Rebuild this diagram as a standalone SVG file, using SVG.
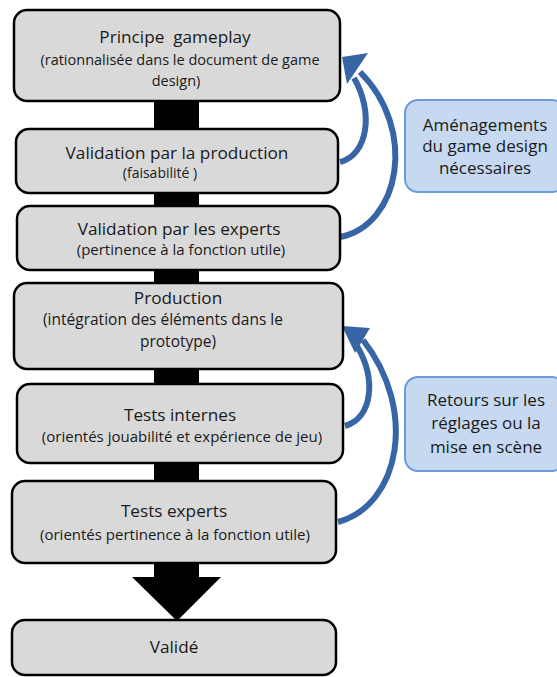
<svg xmlns="http://www.w3.org/2000/svg" width="557" height="677" viewBox="0 0 557 677">
<style>
.box{fill:#d9d9d9;stroke:#000;stroke-width:2.5}
.bbox{fill:#c6d9f1;stroke:#6b9bd8;stroke-width:2}
.t{font-family:"Open Sans","Noto Sans",sans-serif;font-size:17.2px;fill:#1a1a1a;text-anchor:middle}
.s{font-family:"Open Sans","Noto Sans",sans-serif;font-size:15px;fill:#1a1a1a;text-anchor:middle}
.b{font-family:"Open Sans","Noto Sans",sans-serif;font-size:17px;fill:#1a1a1a;text-anchor:middle}
.bar{fill:#000}
.arc{fill:none;stroke:#3765a6;stroke-width:6}
.head{fill:#3765a6}
</style>
<rect width="557" height="677" fill="#fff"/>
<g id="connectors">
<rect class="bar" x="154" y="99" width="45" height="31"/>
<rect class="bar" x="154" y="191" width="45" height="17"/>
<rect class="bar" x="154" y="268" width="45" height="16"/>
<rect class="bar" x="154" y="368" width="45" height="18"/>
<rect class="bar" x="154" y="461" width="45" height="22"/>
<rect class="bar" x="154" y="561" width="45" height="17"/>
<polygon class="bar" points="132,577 221,577 177,621"/>
<path class="arc" d="M340 162 C368 155 374 112 354 78"/>
<path class="arc" d="M340 237 C400 225 418 130 360 72"/>
<polygon class="head" points="342,57 368,53 347,84"/>
<path class="arc" d="M345 426 C372 418 377 380 357 346"/>
<path class="arc" d="M338 522 C400 505 418 410 363 340"/>
<polygon class="head" points="342,326 370,328 355,353"/>
</g>
<g id="n1"><rect class="box" x="14" y="10" width="326" height="91" rx="13"/>
<text class="t" x="175" y="43" xml:space="preserve">Principe  gameplay</text>
<text class="s" x="180" y="65" style="font-size:14.5px">(rationnalisée dans le document de game</text>
<text class="s" x="176" y="86" style="font-size:14.5px">design)</text></g>
<g id="n2"><rect class="box" x="16" y="129" width="322" height="64" rx="13"/>
<text class="t" x="177" y="159">Validation par la production</text>
<text class="s" x="160" y="178" style="font-size:14px">(faisabilité )</text></g>
<g id="n3"><rect class="box" x="17" y="206" width="323" height="64" rx="13"/>
<text class="t" x="179" y="235">Validation par les experts</text>
<text class="s" x="181" y="255">(pertinence à la fonction utile)</text></g>
<g id="n4"><rect class="box" x="14" y="283" width="329" height="86" rx="13"/>
<text class="t" x="178" y="304">Production</text>
<text class="s" x="163" y="325" style="font-size:15.5px">(intégration des éléments dans le</text>
<text class="s" x="178" y="347" style="font-size:15.5px">prototype)</text></g>
<g id="n5"><rect class="box" x="17" y="384" width="326" height="79" rx="13"/>
<text class="t" x="180" y="421">Tests internes</text>
<text class="s" x="182" y="442">(orientés jouabilité et expérience de jeu)</text></g>
<g id="n6"><rect class="box" x="12" y="481" width="324" height="82" rx="13"/>
<text class="t" x="174" y="517">Tests experts</text>
<text class="s" x="175" y="540">(orientés pertinence à la fonction utile)</text></g>
<g id="n7"><rect class="box" x="12" y="620" width="324" height="55" rx="13"/>
<text class="t" x="174" y="653">Validé</text></g>
<g id="noteA"><rect class="bbox" x="405" y="100" width="160" height="92" rx="13"/>
<text class="b" x="485" y="131">Aménagements</text>
<text class="b" x="485" y="152">du game design</text>
<text class="b" x="485" y="174">nécessaires</text></g>
<g id="noteB"><rect class="bbox" x="405" y="377" width="160" height="94" rx="13"/>
<text class="b" x="486" y="406">Retours sur les</text>
<text class="b" x="486" y="429">réglages ou la</text>
<text class="b" x="486" y="453">mise en scène</text></g>
</svg>
